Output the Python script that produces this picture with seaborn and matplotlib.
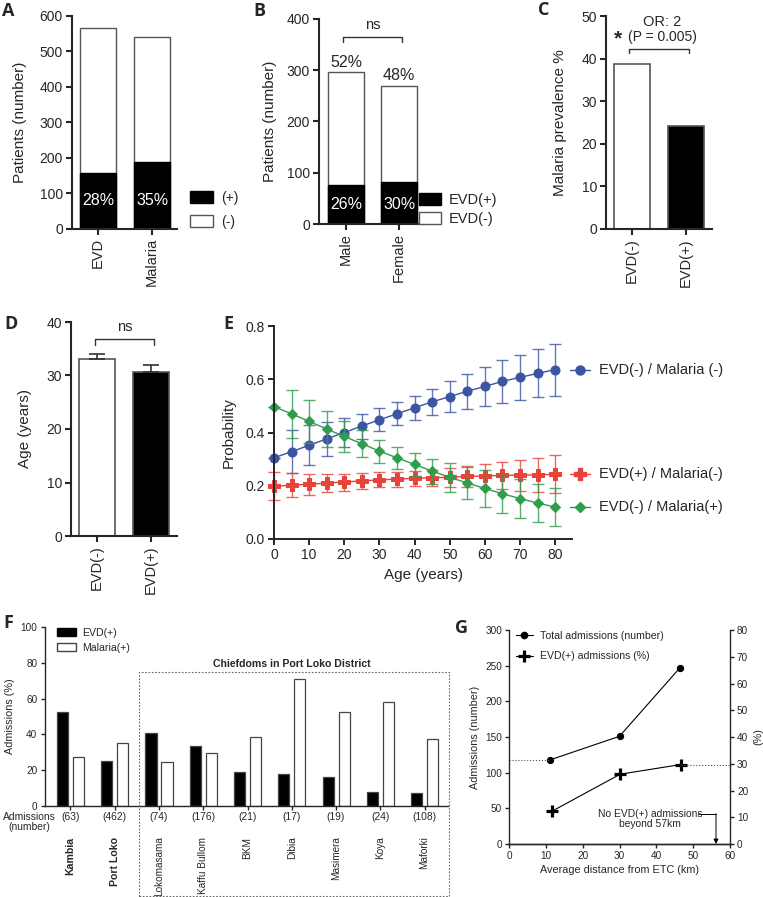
import numpy as np
import pandas as pd
import seaborn as sns
import matplotlib.pyplot as plt
from matplotlib.patches import Patch, Rectangle
from matplotlib.lines import Line2D
import matplotlib.transforms as mtransforms

# ---- data ----
cats_a = ["EVD", "Malaria"]
total_a = [565, 541]
pos_a = [158, 189]
pct_a = ["28%", "35%"]

cats_b = ["Male", "Female"]
total_b = [296, 270]
pos_b = [77, 81]
pct_in_b = ["26%", "30%"]
pct_top_b = ["52%", "48%"]

cats_c = ["EVD(-)", "EVD(+)"]
prev_c = [38.7, 24.1]

cats_d = ["EVD(-)", "EVD(+)"]
age_d = [33.1, 30.6]
sem_d = [0.9, 1.4]

ages = [0, 5, 10, 15, 20, 25, 30, 35, 40, 45, 50, 55, 60, 65, 70, 75, 80]
p_neg_neg = [0.305, 0.328, 0.352, 0.376, 0.400, 0.424, 0.448, 0.470, 0.493,
             0.515, 0.535, 0.555, 0.573, 0.592, 0.607, 0.622, 0.636]
e_neg_neg = [0.0, 0.08, 0.075, 0.065, 0.055, 0.047, 0.043, 0.043, 0.045,
             0.05, 0.057, 0.065, 0.072, 0.08, 0.085, 0.09, 0.098]
p_pos_neg = [0.198, 0.202, 0.206, 0.210, 0.214, 0.218, 0.222, 0.225, 0.228,
             0.230, 0.232, 0.235, 0.237, 0.239, 0.240, 0.241, 0.243]
e_pos_neg = [0.052, 0.045, 0.040, 0.035, 0.032, 0.030, 0.028, 0.028, 0.028,
             0.030, 0.035, 0.040, 0.045, 0.050, 0.058, 0.065, 0.072]
p_neg_pos = [0.497, 0.470, 0.442, 0.413, 0.385, 0.358, 0.330, 0.305, 0.280,
             0.255, 0.232, 0.210, 0.190, 0.170, 0.152, 0.135, 0.120]
e_neg_pos = [0.0, 0.09, 0.08, 0.068, 0.058, 0.05, 0.043, 0.042, 0.043,
             0.047, 0.055, 0.06, 0.068, 0.072, 0.075, 0.073, 0.072]

areas_f = ["Kambia", "Port Loko", "Lokomasama", "Kaffu Bullom", "BKM",
           "Dibia", "Masimera", "Koya", "Maforki"]
n_f = ["(63)", "(462)", "(74)", "(176)", "(21)", "(17)", "(19)", "(24)", "(108)"]
evd_f = [52.6, 24.9, 40.7, 33.6, 19.1, 17.9, 16.1, 8.0, 7.3]
mal_f = [27.1, 35.1, 24.5, 29.7, 38.3, 70.8, 52.7, 58.1, 37.6]

dist_tot = [11.2, 30.0, 46.4]
tot_adm = [118, 151, 247]
dist_evd = [11.6, 30.2, 46.6]
evd_pct = [12.2, 26.1, 29.7]

# ---- style ----
sns.set_style("ticks")
plt.rcParams["font.family"] = ["Liberation Sans", "DejaVu Sans"]

W, H = 763, 897
fig = plt.figure(figsize=(W / 100, H / 100), dpi=100)


def rect(l, t, r, b):
    return [l / W, 1 - b / H, (r - l) / W, (b - t) / H]


def style(ax, lw=1.5, length=4, size=10):
    sns.despine(ax=ax)
    for s in ["left", "bottom"]:
        ax.spines[s].set_linewidth(lw)
    ax.tick_params(width=lw, length=length, labelsize=size, pad=2.5)


def bracket(ax, x0, x1, y, drop, label, ty, fs=10.5):
    ax.plot([x0, x0, x1, x1], [y - drop, y, y, y - drop], color="#333333", lw=1.0)
    if label:
        ax.text((x0 + x1) / 2, ty, label, ha="center", va="center", fontsize=fs)


edge_w = "#555555"

# ---- A ----
axA = fig.add_axes(rect(72, 15.7, 177, 229))
sns.barplot(x=cats_a, y=total_a, color="white", edgecolor=edge_w, linewidth=1.0,
            width=0.667, saturation=1, errorbar=None, ax=axA)
sns.barplot(x=cats_a, y=pos_a, color="black", edgecolor="black", linewidth=1.0,
            width=0.667, saturation=1, errorbar=None, ax=axA)
axA.set_ylim(0, 600)
axA.set_xlim(-0.48, 1.46)
axA.set_yticks(range(0, 601, 100))
style(axA)
axA.tick_params(axis="x", labelrotation=90, labelsize=10.5)
axA.set_ylabel("Patients (number)", fontsize=11, labelpad=9)
for i, p in enumerate(pct_a):
    axA.text(i, 80, p, color="white", ha="center", va="center", fontsize=11.5)
axA.legend(handles=[Patch(fc="black", ec="black", label="(+)"),
                    Patch(fc="white", ec=edge_w, label="(-)")],
           loc="center left", bbox_to_anchor=(1.12, 0.09), frameon=False,
           fontsize=10, handlelength=1.65, handleheight=0.9, borderpad=0,
           borderaxespad=0, labelspacing=0.7, handletextpad=0.6)

# ---- B ----
axB = fig.add_axes(rect(319, 19, 425, 224))
sns.barplot(x=cats_b, y=total_b, color="white", edgecolor=edge_w, linewidth=1.0,
            width=0.68, saturation=1, errorbar=None, ax=axB)
sns.barplot(x=cats_b, y=pos_b, color="black", edgecolor="black", linewidth=1.0,
            width=0.68, saturation=1, errorbar=None, ax=axB)
axB.set_ylim(0, 400)
axB.set_xlim(-0.51, 1.49)
axB.set_yticks(range(0, 401, 100))
style(axB)
axB.tick_params(axis="x", labelrotation=90, labelsize=10.5)
axB.set_ylabel("Patients (number)", fontsize=11, labelpad=7)
for i, p in enumerate(pct_in_b):
    axB.text(i, 39, p, color="white", ha="center", va="center", fontsize=11.5)
for i, p in enumerate(pct_top_b):
    axB.text(i, total_b[i] + 19, p, ha="center", va="center", fontsize=11.5)
bracket(axB, -0.05, 1.05, 365, 10, "ns", 388)
axB.legend(handles=[Patch(fc="black", ec="black", label="EVD(+)"),
                    Patch(fc="white", ec=edge_w, label="EVD(-)")],
           loc="center left", bbox_to_anchor=(0.945, 0.07), frameon=False,
           fontsize=10.5, handlelength=1.5, handleheight=0.85, borderpad=0,
           borderaxespad=0, labelspacing=0.35, handletextpad=0.55)

# ---- C ----
axC = fig.add_axes(rect(606, 16, 712, 229))
sns.barplot(x=cats_c, y=prev_c, palette=["white", "black"], hue=cats_c,
            edgecolor=edge_w, linewidth=1.2, width=0.667, saturation=1,
            errorbar=None, legend=False, ax=axC)
axC.set_ylim(0, 50)
axC.set_xlim(-0.48, 1.48)
axC.set_yticks(range(0, 51, 10))
style(axC)
axC.tick_params(axis="x", labelrotation=90, labelsize=10.5)
axC.set_ylabel("Malaria prevalence %", fontsize=11, labelpad=10)
bracket(axC, -0.05, 1.05, 42.2, 1.0, None, 0)
axC.text(0.55, 48.6, "OR: 2", ha="center", va="center", fontsize=10.5)
axC.text(0.56, 45.0, "(P = 0.005)", ha="center", va="center", fontsize=10)
axC.text(-0.25, 44.7, "*", ha="center", va="center", fontsize=15, fontweight="bold")

# ---- D ----
axD = fig.add_axes(rect(71, 322, 177, 536))
sns.barplot(x=cats_d, y=age_d, palette=["white", "black"], hue=cats_d,
            edgecolor=edge_w, linewidth=1.2, width=0.667, saturation=1,
            errorbar=None, legend=False, ax=axD)
axD.errorbar(range(len(age_d)), age_d, yerr=[[0] * len(sem_d), sem_d], fmt="none",
             ecolor="#333333", elinewidth=1.2, capsize=6, capthick=1.2)
axD.set_ylim(0, 40)
axD.set_xlim(-0.48, 1.48)
axD.set_yticks(range(0, 41, 10))
style(axD)
axD.tick_params(axis="x", labelrotation=90, labelsize=10.5)
axD.set_ylabel("Age (years)", fontsize=11, labelpad=10)
bracket(axD, -0.04, 1.06, 36.8, 1.1, "ns", 39.1)

# ---- E ----
axE = fig.add_axes(rect(274, 326, 572, 539))
series_e = [
    ("EVD(-) / Malaria (-)", p_neg_neg, e_neg_neg, "#3B55A3", "o", 6.5),
    ("EVD(+) / Malaria(-)", p_pos_neg, e_pos_neg, "#E8433B", "P", 8.5),
    ("EVD(-) / Malaria(+)", p_neg_pos, e_neg_pos, "#2E9E4C", "D", 5.5),
]
for lab, vals, errs, col, mk, ms in series_e:
    axE.errorbar(ages, vals, yerr=errs, fmt="none", ecolor=col, elinewidth=1.0,
                 capsize=4.5, capthick=1.0, alpha=0.8, clip_on=False)
    sns.lineplot(x=ages, y=vals, color=col, marker=mk, markersize=ms,
                 markeredgecolor=col, lw=1.0, clip_on=False, ax=axE)
    axE.plot([84.2, 89.9], [vals[-1]] * 2, color=col, lw=1.0, clip_on=False)
    axE.plot([87.1], [vals[-1]], color=col, marker=mk, markersize=ms,
             markeredgecolor=col, clip_on=False)
    axE.text(92.5, vals[-1], lab, va="center", ha="left", fontsize=10.5)
axE.set_xlim(0, 84.8)
axE.set_ylim(0, 0.8)
axE.set_xticks(range(0, 81, 10))
axE.set_yticks([0.0, 0.2, 0.4, 0.6, 0.8])
axE.set_yticklabels(["0.0", "0.2", "0.4", "0.6", "0.8"])
style(axE, lw=1.4)
axE.set_ylabel("Probability", fontsize=11, labelpad=7)
axE.set_xlabel("Age (years)", fontsize=11, labelpad=4)

# ---- F ----
axF = fig.add_axes(rect(45, 627, 448, 806))
df_f = pd.DataFrame({
    "area": areas_f * 2,
    "series": ["EVD(+)"] * len(areas_f) + ["Malaria(+)"] * len(areas_f),
    "value": evd_f + mal_f,
})
sns.barplot(data=df_f, x="area", y="value", hue="series",
            palette={"EVD(+)": "black", "Malaria(+)": "white"},
            edgecolor="#444444", linewidth=0.9, width=0.723, gap=0.31,
            saturation=1, errorbar=None, legend=False, ax=axF)
axF.set_ylim(0, 100)
axF.set_xlim(-0.576, 8.53)
axF.set_yticks(range(0, 101, 20))
style(axF, lw=1.0, length=3, size=7.2)
axF.set_xlabel("")
axF.set_ylabel("Admissions (%)", fontsize=7.8, labelpad=4)
axF.set_xticks(range(len(areas_f)))
axF.set_xticklabels(areas_f, rotation=90, fontsize=7.2)
axF.tick_params(axis="x", pad=19)
for lbl in axF.get_xticklabels()[:2]:
    lbl.set_fontweight("bold")
    lbl.set_fontsize(7.6)
trans_f = mtransforms.blended_transform_factory(axF.transData, axF.transAxes)
for i, n in enumerate(n_f):
    axF.text(i, -0.062, n, transform=trans_f, ha="center", va="center", fontsize=7.4)
fig.text(29 / W, 1 - 822 / H, "Admissions\n(number)", ha="center", va="center",
         fontsize=7.4, linespacing=1.1)
axF.legend(handles=[Patch(fc="black", ec="black", label="EVD(+)"),
                    Patch(fc="white", ec="#444444", label="Malaria(+)")],
           loc="upper left", bbox_to_anchor=(0.03, 0.995), frameon=False,
           fontsize=7.6, handlelength=1.8, handleheight=0.85, borderpad=0,
           borderaxespad=0, labelspacing=0.45, handletextpad=0.6)
fig.patches.append(Rectangle((139 / W, 1 - 896 / H), 310 / W, 224 / H,
                             transform=fig.transFigure, fill=False, ls=(0, (1.5, 1.5)),
                             lw=0.8, ec="#666666"))
fig.text(292 / W, 1 - 664 / H, "Chiefdoms in Port Loko District", ha="center",
         va="center", fontsize=7.6, fontweight="bold")

# ---- G ----
axG = fig.add_axes(rect(509, 630, 730, 844))
axG2 = axG.twinx()
sns.lineplot(x=dist_tot, y=tot_adm, color="black", marker="o", markersize=4.5,
             markeredgecolor="black", lw=0.8, ax=axG)
sns.lineplot(x=dist_evd, y=evd_pct, color="black", marker="+", markersize=9,
             markeredgecolor="black", markeredgewidth=2.3, lw=0.8, ax=axG2)
axG.plot([0, dist_tot[0]], [tot_adm[0]] * 2, ls=":", color="#555555", lw=0.8)
axG2.plot([dist_evd[-1], 60], [evd_pct[-1]] * 2, ls=":", color="#555555", lw=0.8)
axG.set_xlim(0, 60)
axG.set_ylim(0, 300)
axG2.set_ylim(0, 80)
axG.set_xticks(range(0, 61, 10))
axG.set_yticks(range(0, 301, 50))
axG2.set_yticks(range(0, 81, 10))
for ax in (axG, axG2):
    ax.spines["top"].set_visible(False)
    for s in ["left", "bottom", "right"]:
        ax.spines[s].set_linewidth(1.0)
    ax.tick_params(width=1.0, length=3, labelsize=7.2, pad=2)
axG.spines["right"].set_visible(False)
axG2.spines["left"].set_visible(False)
axG.set_ylabel("Admissions (number)", fontsize=7.8, labelpad=4)
axG.set_xlabel("Average distance from ETC (km)", fontsize=7.8, labelpad=3)
axG2.set_ylabel("(%)", fontsize=7.8, labelpad=4)
axG.text(38.3, 42, "No EVD(+) admissions", ha="center", va="center", fontsize=7.4)
axG.text(38.3, 28, "beyond 57km", ha="center", va="center", fontsize=7.4)
axG.plot([51.4, 56.2], [42, 42], color="black", lw=0.7)
axG.annotate("", xy=(56.2, 0), xytext=(56.2, 42.4),
             arrowprops=dict(arrowstyle="-|>", lw=0.7, color="black",
                             mutation_scale=7, shrinkA=0, shrinkB=0))
axG.legend(handles=[Line2D([], [], color="black", lw=0.8, marker="o", markersize=4.5,
                           label="Total admissions (number)"),
                    Line2D([], [], color="black", lw=0.8, marker="+", markersize=9,
                           markeredgewidth=2.3, label="EVD(+) admissions (%)")],
           loc="upper left", bbox_to_anchor=(0.03, 0.997), frameon=False,
           fontsize=7.6, handlelength=1.6, borderpad=0, borderaxespad=0,
           labelspacing=1.0, handletextpad=0.7)

# ---- panel letters ----
letters = {"A": (8.5, 11), "B": (259, 11), "C": (544, 10), "D": (11.5, 324),
           "E": (228, 324), "F": (8, 623), "G": (462, 628)}
for k, (x, y) in letters.items():
    fig.text(x / W, 1 - y / H, k, ha="center", va="center", fontsize=13,
             fontweight="bold", family=["Open Sans", "DejaVu Sans"])

fig.savefig("out.png", dpi=100)
